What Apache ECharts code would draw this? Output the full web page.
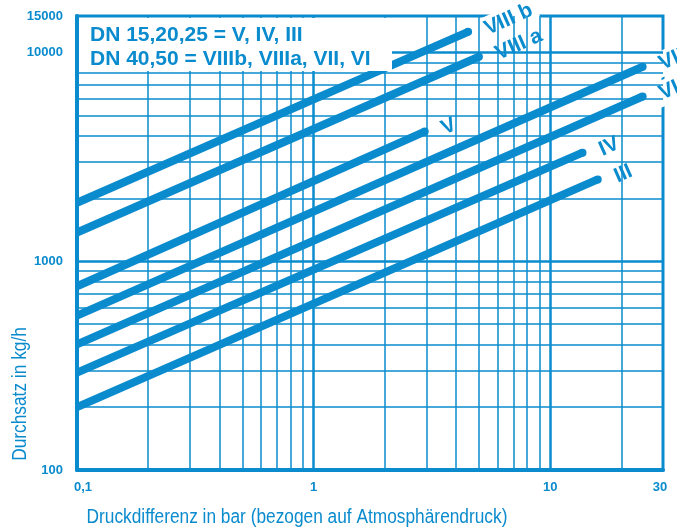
<!DOCTYPE html>
<html><head><meta charset="utf-8">
<script src="https://cdn.jsdelivr.net/npm/echarts@6/dist/echarts.min.js"></script>
<style>html,body{margin:0;padding:0;background:#fff}#c{width:677px;height:530px}</style>
</head><body><div id="c"></div>
<script>
// ---- data ----
const seriesNames   = ['VIII b', 'VIII a', 'V', 'VII', 'VI', 'IV', 'III'];
const startPressure = [0.1, 0.1, 0.1, 0.1, 0.1, 0.1, 0.1];
const startFlow     = [1910, 1375, 760, 550, 400, 293, 200];
const endPressure   = [4.5, 5.0, 2.95, 24.6, 24.6, 13.7, 15.9];
const endFlow       = [12600, 9570, 4190, 8570, 6170, 3320, 2470];

const xMinorGrid = [0.2, 0.3, 0.4, 0.5, 0.6, 0.7, 0.8, 0.9, 2, 3, 4, 5, 6, 7, 8, 9, 20];
const xMajorGrid = [1, 10];
const yMinorGrid = [200, 300, 400, 500, 600, 700, 800, 900, 2000, 3000, 4000, 5000, 6000, 7000, 8000, 9000];
const yMajorGrid = [1000, 10000];

const legendLines = ['DN 15,20,25 = V, IV, III', 'DN 40,50 = VIIIb, VIIIa, VII, VI'];
const xAxisTitle = 'Druckdifferenz in bar (bezogen auf Atmosphärendruck)';
const yAxisTitle = 'Durchsatz in kg/h';

const BLUE = '#0a8bce';
const BOLD = "'Liberation Sans', Arial, Helvetica, sans-serif";

const chart = echarts.init(document.getElementById('c'), null, {renderer: 'canvas'});

function fmtX(v) {
  const n = Number(Number(v).toPrecision(6));
  const s = String(n).replace('.', ',');
  if (n < 0.5) return '{l|' + s + '}';
  if (n > 20) return '{r|' + s + '}';
  return s;
}

const gridSeries = {
  type: 'line',
  data: [],
  z: 1,
  silent: true,
  markLine: {
    silent: true,
    symbol: 'none',
    animation: false,
    label: {show: false},
    emphasis: {disabled: true},
    data: [
      ...xMinorGrid.map(v => ({xAxis: v, lineStyle: {width: 1.5, color: BLUE, type: 'solid'}})),
      ...xMajorGrid.map(v => ({xAxis: v, lineStyle: {width: 2.5, color: BLUE, type: 'solid'}})),
      ...yMinorGrid.map(v => ({yAxis: v, lineStyle: {width: 1.5, color: BLUE, type: 'solid'}})),
      ...yMajorGrid.map(v => ({yAxis: v, lineStyle: {width: 2.5, color: BLUE, type: 'solid'}}))
    ]
  }
};

const curveSeries = seriesNames.map((name, i) => ({
  type: 'line',
  name: name,
  z: 3,
  silent: true,
  symbol: 'circle',
  showSymbol: true,
  itemStyle: {color: BLUE},
  lineStyle: {color: BLUE, width: 8, cap: 'butt'},
  data: [
    {value: [startPressure[i], startFlow[i]], symbolSize: 0},
    {
      value: [endPressure[i], endFlow[i]],
      symbolSize: 8,
      label: {
        show: true,
        formatter: name,
        position: 'right',
        rotate: 24,
        distance: 9,
        color: BLUE,
        fontWeight: 'bold',
        fontSize: 21,
        fontFamily: BOLD,
        backgroundColor: '#ffffff',
        padding: [3, 5, 1, 5]
      }
    }
  ]
}));

chart.setOption({
  animation: false,
  backgroundColor: '#ffffff',
  grid: {
    left: 77, right: 14, top: 16, bottom: 60,
    show: true, borderColor: BLUE, borderWidth: 3, backgroundColor: 'transparent'
  },
  xAxis: {
    type: 'log', logBase: 10, min: 0.1, max: 30,
    axisLine: {show: true, lineStyle: {color: BLUE, width: 4}},
    axisTick: {show: false},
    splitLine: {show: false},
    axisLabel: {
      color: BLUE, fontWeight: 'bold', fontSize: 13, fontFamily: BOLD, margin: 11,
      showMinLabel: true, showMaxLabel: true,
      formatter: fmtX,
      rich: {
        l: {color: BLUE, fontWeight: 'bold', fontSize: 13, fontFamily: BOLD, padding: [0, 0, 0, 12]},
        r: {color: BLUE, fontWeight: 'bold', fontSize: 13, fontFamily: BOLD, padding: [0, 6, 0, 0]}
      }
    }
  },
  yAxis: {
    type: 'log', logBase: 10, min: 100, max: 15000,
    axisLine: {show: true, lineStyle: {color: BLUE, width: 4}},
    axisTick: {show: false},
    splitLine: {show: false},
    axisLabel: {
      color: BLUE, fontWeight: 'bold', fontSize: 13, fontFamily: BOLD, margin: 14,
      showMinLabel: true, showMaxLabel: true,
      formatter: v => String(Math.round(v))
    }
  },
  graphic: [
    {type: 'rect', z: 100, shape: {x: 79, y: 18, width: 313, height: 53}, style: {fill: '#ffffff'}},
    {type: 'text', z: 101, style: {text: legendLines[0], x: 90, y: 35, textVerticalAlign: 'middle', fill: BLUE, font: "bold 21px " + BOLD}},
    {type: 'text', z: 101, style: {text: legendLines[1], x: 90, y: 59, textVerticalAlign: 'middle', fill: BLUE, font: "bold 21px " + BOLD}},
    {type: 'text', z: 101, x: 297, y: 517, scaleX: 0.865, style: {text: xAxisTitle, x: 0, y: 0, textAlign: 'center', textVerticalAlign: 'middle', fill: BLUE, font: "20px " + BOLD}},
    {type: 'text', z: 101, x: 20, y: 394, rotation: Math.PI / 2, scaleX: 0.865, style: {text: yAxisTitle, x: 0, y: 0, textAlign: 'center', textVerticalAlign: 'middle', fill: BLUE, font: "20px " + BOLD}}
  ],
  series: [gridSeries, ...curveSeries]
});
</script>
</body></html>
